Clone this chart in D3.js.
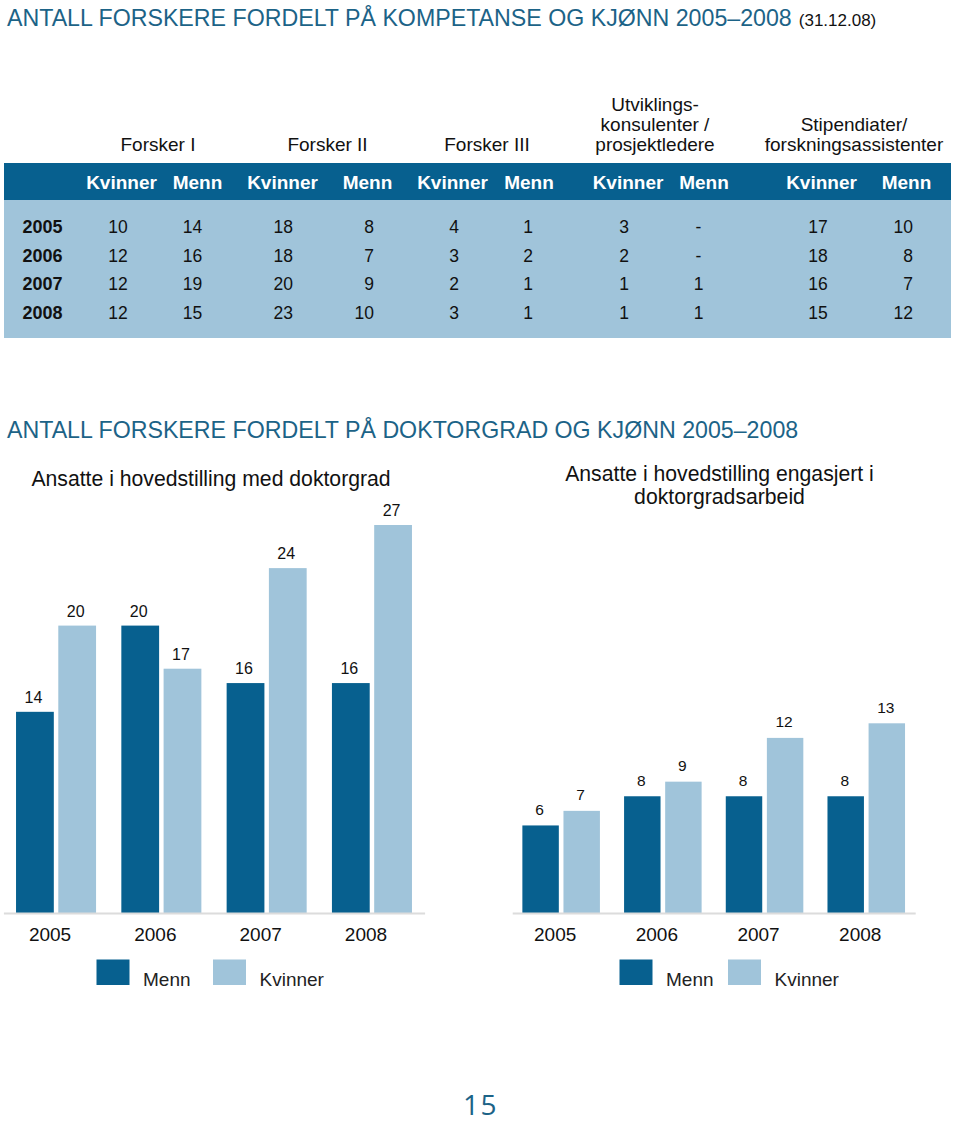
<!DOCTYPE html>
<html>
<head>
<meta charset="utf-8">
<script src="https://cdn.jsdelivr.net/npm/d3@7"></script>
<style>
  html, body { margin: 0; padding: 0; background: #fff; }
  svg { display: block; font-family: "Liberation Sans", Arial, Helvetica, sans-serif; }
</style>
</head>
<body>
<svg id="chart" width="960" height="1123"></svg>
<script>
// ---------------- DATA ----------------
const years = ["2005", "2006", "2007", "2008"];
const genders = ["Kvinner", "Menn"];
const categories = [
  ["Forsker I"],
  ["Forsker II"],
  ["Forsker III"],
  ["Utviklings-", "konsulenter /", "prosjektledere"],
  ["Stipendiater/", "forskningsassistenter"]
];
// table values per category (Kvinner / Menn), null = "-"
const forskerI_K = [10, 12, 12, 12];
const forskerI_M = [14, 16, 19, 15];
const forskerII_K = [18, 18, 20, 23];
const forskerII_M = [8, 7, 9, 10];
const forskerIII_K = [4, 3, 2, 3];
const forskerIII_M = [1, 2, 1, 1];
const utvikling_K = [3, 2, 1, 1];
const utvikling_M = [null, null, 1, 1];
const stipendiat_K = [17, 18, 16, 15];
const stipendiat_M = [10, 8, 7, 12];

// bar charts
const barSeries = ["Menn", "Kvinner"];
const doktorgrad_Menn = [14, 20, 16, 16];
const doktorgrad_Kvinner = [20, 17, 24, 27];
const engasjert_Menn = [6, 8, 8, 8];
const engasjert_Kvinner = [7, 9, 12, 13];

const title1 = "ANTALL FORSKERE FORDELT PÅ KOMPETANSE OG KJØNN 2005–2008";
const title1Note = "(31.12.08)";
const title2 = "ANTALL FORSKERE FORDELT PÅ DOKTORGRAD OG KJØNN 2005–2008";
const subtitleLeft = ["Ansatte i hovedstilling med doktorgrad"];
const subtitleRight = ["Ansatte i hovedstilling engasjert i", "doktorgradsarbeid"];
const pageNumber = "15";

// ---------------- STYLE ----------------
const DARK = "#07608f";
const LIGHT = "#a0c4da";
const TEAL = "#1c6387";

const svg = d3.select("#chart");

// ---------------- TITLES ----------------
const t1 = svg.append("text").attr("x", 7).attr("y", 26)
  .attr("font-size", 23.2).attr("fill", TEAL);
t1.append("tspan").text(title1);
t1.append("tspan").attr("font-size", 17).attr("fill", "#111").attr("dx", 7).text(title1Note);

svg.append("text").attr("x", 7).attr("y", 438)
  .attr("font-size", 23.2).attr("fill", TEAL).text(title2);

// ---------------- TABLE ----------------
const tableCols = [
  forskerI_K, forskerI_M, forskerII_K, forskerII_M, forskerIII_K,
  forskerIII_M, utvikling_K, utvikling_M, stipendiat_K, stipendiat_M
];
const headerX = [121.5, 197.5, 282.5, 367.5, 452.5, 529, 628, 704, 821.5, 906.5];
const valueX = [118, 192.5, 283.3, 374, 454, 528, 624, 698.5, 818, 913];
const valueAnchor = ["middle", "middle", "middle", "end", "middle", "middle", "middle", "middle", "middle", "end"];
const catX = [158, 327.5, 487, 655, 854];

svg.append("rect").attr("x", 4).attr("y", 163).attr("width", 947).attr("height", 37).attr("fill", DARK);
svg.append("rect").attr("x", 4).attr("y", 200).attr("width", 947).attr("height", 138).attr("fill", LIGHT);

// category headers (bottom-aligned multi-line)
categories.forEach((lines, i) => {
  const n = lines.length;
  lines.forEach((ln, j) => {
    svg.append("text")
      .attr("x", catX[i]).attr("y", 151 - (n - 1 - j) * 20)
      .attr("text-anchor", "middle").attr("font-size", 19).attr("fill", "#111")
      .text(ln);
  });
});

// gender header row
tableCols.forEach((col, i) => {
  svg.append("text")
    .attr("x", headerX[i]).attr("y", 188.5)
    .attr("text-anchor", "middle").attr("font-size", 19)
    .attr("font-weight", "bold").attr("fill", "#fff")
    .text(genders[i % 2]);
});

const rowY = d3.scalePoint().domain(years).range([233.3, 318.7]);
years.forEach((yr, r) => {
  svg.append("text").attr("x", 22.5).attr("y", rowY(yr))
    .attr("font-size", 18).attr("font-weight", "bold").attr("fill", "#111").text(yr);
  tableCols.forEach((col, c) => {
    const v = col[r];
    svg.append("text").attr("x", valueX[c]).attr("y", rowY(yr))
      .attr("text-anchor", valueAnchor[c]).attr("font-size", 17.5).attr("fill", "#111")
      .text(v === null ? "-" : v);
  });
});

// ---------------- BAR CHARTS ----------------
function barChart(opts) {
  const { menn, kvinner, xRange, yScale, po, pi, innerPi, labelSize, labelGap, labelDx, subtitle, subX, subY } = opts;
  const g = svg.append("g");
  const x0 = d3.scaleBand().domain(years).range(xRange).paddingInner(pi).paddingOuter(po);
  const x1 = d3.scaleBand().domain(barSeries).range([0, x0.bandwidth()]).paddingInner(innerPi).paddingOuter(0);
  const data = years.map((yr, i) => ({ year: yr, values: [
    { key: "Menn", value: menn[i] },
    { key: "Kvinner", value: kvinner[i] }
  ]}));
  const color = d3.scaleOrdinal().domain(barSeries).range([DARK, LIGHT]);

  const groups = g.selectAll("g.grp").data(data).join("g")
    .attr("transform", d => `translate(${x0(d.year)},0)`);
  groups.selectAll("rect").data(d => d.values).join("rect")
    .attr("x", d => x1(d.key))
    .attr("y", d => yScale(d.value))
    .attr("width", x1.bandwidth())
    .attr("height", d => yScale(0) - yScale(d.value))
    .attr("fill", d => color(d.key));
  groups.selectAll("text.val").data(d => d.values).join("text")
    .attr("class", "val")
    .attr("x", d => x1(d.key) + x1.bandwidth() / 2 + labelDx)
    .attr("y", d => yScale(d.value) - labelGap)
    .attr("text-anchor", "middle").attr("font-size", labelSize).attr("fill", "#111")
    .text(d => d.value);

  const axis = g.append("g").attr("transform", `translate(0,${yScale(0)})`)
    .call(d3.axisBottom(x0).tickSize(0).tickPadding(14.5));
  axis.select(".domain").attr("stroke", "#dcdcdc").attr("stroke-width", 2);
  axis.selectAll(".tick text")
    .attr("font-size", 19).attr("fill", "#111")
    .attr("font-family", "'Liberation Sans', Arial, sans-serif")
    .attr("dx", -6);

  // subtitle
  subtitle.forEach((ln, j) => {
    g.append("text").attr("x", subX).attr("y", subY + j * 23)
      .attr("text-anchor", "middle").attr("font-size", 21.2).attr("fill", "#111").text(ln);
  });

  // legend
  const lx = opts.legendX;
  barSeries.forEach((s, i) => {
    g.append("rect").attr("x", lx[i]).attr("y", 959.5).attr("width", 33).attr("height", 25.5)
      .attr("fill", color(s));
    g.append("text").attr("x", lx[i] + 46.5).attr("y", 985.5)
      .attr("font-size", 19).attr("fill", "#222").text(s);
  });
}

barChart({
  menn: doktorgrad_Menn, kvinner: doktorgrad_Kvinner,
  xRange: [3.4, 424.6], po: 0.12, pi: 0.24, innerPi: 0.106,
  yScale: d3.scaleLinear().domain([0, 27]).range([913, 525]),
  labelSize: 16, labelGap: 9, labelDx: -1.5,
  subtitle: subtitleLeft, subX: 211, subY: 485.5,
  legendX: [96.5, 213]
});

barChart({
  menn: engasjert_Menn, kvinner: engasjert_Kvinner,
  xRange: [512.2, 915.2], po: 0.1, pi: 0.2375, innerPi: 0.113,
  yScale: d3.scaleLinear().domain([0, 13]).range([913, 723.3]),
  labelSize: 15.5, labelGap: 10.5, labelDx: -1,
  subtitle: subtitleRight, subX: 719.5, subY: 481,
  legendX: [619.5, 728]
});

// ---------------- PAGE NUMBER ----------------
svg.append("text").attr("x", 480.5).attr("y", 1115)
  .attr("text-anchor", "middle").attr("font-size", 28).attr("letter-spacing", 1.5)
  .attr("font-family", "'Open Sans', sans-serif")
  .attr("fill", TEAL).text(pageNumber);
</script>
</body>
</html>
